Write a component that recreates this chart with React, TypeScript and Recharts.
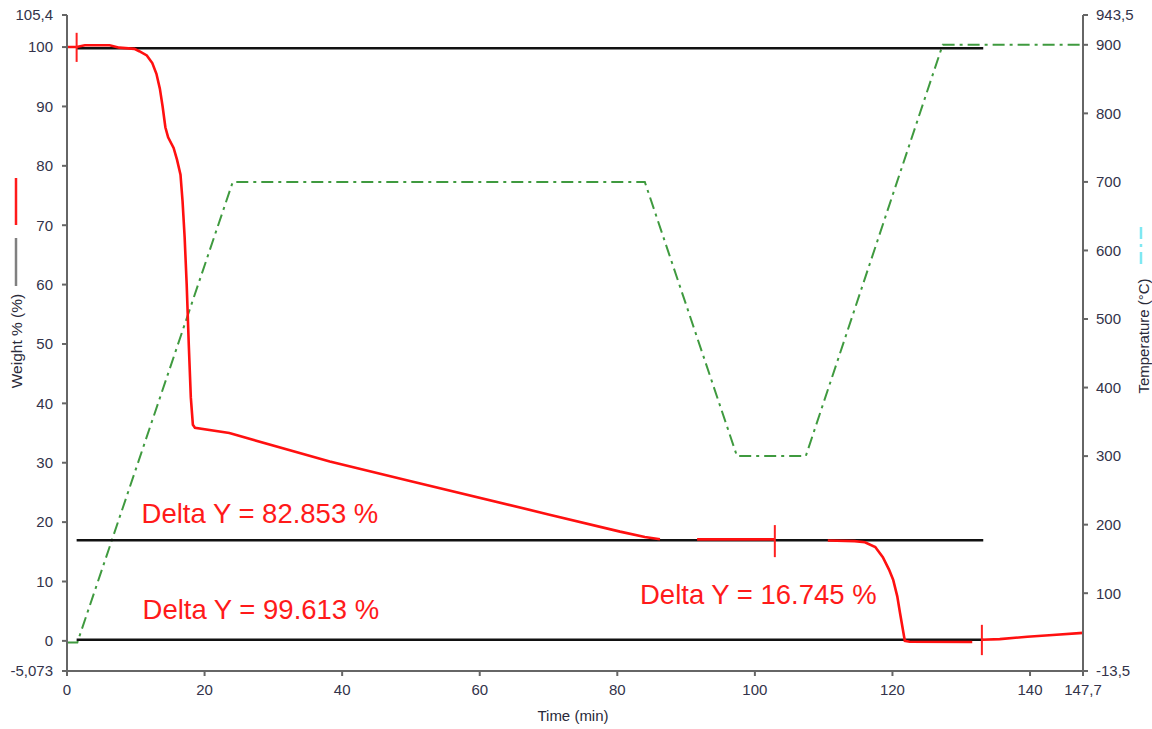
import React from 'react';
import { ComposedChart, Line, XAxis, YAxis, ReferenceLine, ReferenceDot } from 'recharts';

// ---- axis ticks ----
const timeTicks = [0, 20, 40, 60, 80, 100, 120, 140, 147.7];
const weightTicks = [-5.073, 0, 10, 20, 30, 40, 50, 60, 70, 80, 90, 100, 105.4];
const tempTicks = [-13.5, 100, 200, 300, 400, 500, 600, 700, 800, 900, 943.5];

// ---- weight % curve (red), null = visual gap ----
const weightCurve = [
  { t: 0, w: 100.0 },
  { t: 1.4, w: 100.0 },
  { t: 2.6, w: 100.3 },
  { t: 6.2, w: 100.3 },
  { t: 7.6, w: 99.9 },
  { t: 9.8, w: 99.7 },
  { t: 10.5, w: 99.3 },
  { t: 11.6, w: 98.6 },
  { t: 12.4, w: 97.3 },
  { t: 13.0, w: 95.5 },
  { t: 13.5, w: 93.0 },
  { t: 13.9, w: 90.0 },
  { t: 14.3, w: 86.5 },
  { t: 14.7, w: 84.8 },
  { t: 15.5, w: 83.0 },
  { t: 16.0, w: 81.0 },
  { t: 16.5, w: 78.5 },
  { t: 16.8, w: 74.0 },
  { t: 17.1, w: 68.0 },
  { t: 17.4, w: 60.0 },
  { t: 17.7, w: 50.0 },
  { t: 18.0, w: 41.0 },
  { t: 18.3, w: 36.4 },
  { t: 18.6, w: 35.9 },
  { t: 23.6, w: 35.0 },
  { t: 38.2, w: 30.2 },
  { t: 50.0, w: 26.9 },
  { t: 70.0, w: 21.3 },
  { t: 80.4, w: 18.4 },
  { t: 84.0, w: 17.5 },
  { t: 86.2, w: 17.1 },
  { t: 88.9, w: null },
  { t: 91.6, w: 17.1 },
  { t: 102.9, w: 17.1 },
  { t: 106.8, w: null },
  { t: 110.6, w: 16.9 },
  { t: 114.5, w: 16.8 },
  { t: 116.0, w: 16.6 },
  { t: 117.5, w: 15.8 },
  { t: 118.6, w: 14.1 },
  { t: 119.5, w: 12.0 },
  { t: 120.1, w: 10.3 },
  { t: 120.7, w: 7.5 },
  { t: 121.1, w: 4.7 },
  { t: 121.5, w: 2.0 },
  { t: 121.8, w: 0.0 },
  { t: 122.5, w: -0.15 },
  { t: 131.6, w: -0.2 },
  { t: 132.3, w: null },
  { t: 133.0, w: 0.2 },
  { t: 135.6, w: 0.3 },
  { t: 139.6, w: 0.7 },
  { t: 143.3, w: 1.0 },
  { t: 147.7, w: 1.35 },
];

// ---- temperature program (green dash-dot) ----
const temperatureCurve = [
  { t: 0, T: 28 },
  { t: 1.5, T: 28 },
  { t: 24.1, T: 700 },
  { t: 84.0, T: 700 },
  { t: 97.4, T: 300 },
  { t: 107.4, T: 300 },
  { t: 127.3, T: 900 },
  { t: 147.7, T: 900 },
];

// ---- delta-Y cursor levels (black lines) ----
const cursorStart = 1.4;
const cursorEnd = 133.2;
const cursorLevels = [99.8, 16.947, 0.2];

// ---- red cursor marks: [time, low, high] ----
const markTimes = [1.4, 102.9, 133.0];
const markLows = [97.5, 14.1, -2.4];
const markHighs = [102.4, 19.5, 2.7];

// ---- annotations ----
const annoTexts = ['Delta Y = 82.853 %', 'Delta Y = 99.613 %', 'Delta Y = 16.745 %'];
const annoTimes = [10.84, 10.98, 83.3];
const annoLevels = [21.5, 5.4, 7.9];

const fmt = (v: number) => String(v).replace('.', ',');
const FONT = '"Liberation Sans", Arial, sans-serif';
const tickStyle = { fill: '#33334a', fontSize: 15, fontFamily: FONT };
const AXIS = '#666666';

export default function App() {
  const cursorData = cursorLevels.map((lv) => [
    { t: cursorStart, v: lv },
    { t: cursorEnd, v: lv },
  ]);
  return (
    <div style={{ position: 'absolute', left: 0, top: 0, width: 1152, height: 729, background: '#fff' }}>
      <ComposedChart width={1152} height={729} margin={{ top: 15, right: 0, bottom: 0, left: 0 }}>
        <XAxis
          type="number"
          dataKey="t"
          domain={[0, 147.7]}
          ticks={timeTicks}
          interval={0}
          allowDataOverflow
          tickFormatter={fmt}
          height={58}
          tick={tickStyle}
          tickSize={5}
          tickMargin={8}
          axisLine={{ stroke: AXIS, strokeWidth: 2 }}
          tickLine={{ stroke: AXIS, strokeWidth: 2 }}
        />
        <YAxis
          yAxisId="left"
          type="number"
          domain={[-5.073, 105.4]}
          ticks={weightTicks}
          interval={0}
          allowDataOverflow
          tickFormatter={fmt}
          width={67}
          tick={tickStyle}
          tickSize={5}
          tickMargin={9}
          axisLine={{ stroke: AXIS, strokeWidth: 2 }}
          tickLine={{ stroke: AXIS, strokeWidth: 2 }}
        />
        <YAxis
          yAxisId="right"
          orientation="right"
          type="number"
          domain={[-13.5, 943.5]}
          ticks={tempTicks}
          interval={0}
          allowDataOverflow
          tickFormatter={fmt}
          width={69}
          tick={tickStyle}
          tickSize={5}
          tickMargin={8}
          axisLine={{ stroke: AXIS, strokeWidth: 2 }}
          tickLine={{ stroke: AXIS, strokeWidth: 2 }}
        />
        <Line
          yAxisId="right"
          data={temperatureCurve}
          dataKey="T"
          type="linear"
          stroke="#3f9a3f"
          strokeWidth={2}
          strokeDasharray="12 5 3 5"
          dot={false}
          activeDot={false}
          isAnimationActive={false}
        />
        {cursorData.map((d, i) => (
          <Line
            key={'c' + i}
            yAxisId="left"
            data={d}
            dataKey="v"
            type="linear"
            stroke="#111"
            strokeWidth={2.5}
            dot={false}
            activeDot={false}
            isAnimationActive={false}
          />
        ))}
        <Line
          yAxisId="left"
          data={weightCurve}
          dataKey="w"
          type="linear"
          stroke="#ff1010"
          strokeWidth={2.6}
          dot={false}
          activeDot={false}
          connectNulls={false}
          isAnimationActive={false}
        />
        {markTimes.map((mt, i) => (
          <ReferenceLine
            key={'m' + i}
            yAxisId="left"
            segment={[
              { x: mt, y: markLows[i] },
              { x: mt, y: markHighs[i] },
            ]}
            stroke="#ff2020"
            strokeWidth={2}
          />
        ))}
        {annoTexts.map((txt, i) => (
          <ReferenceDot
            key={'a' + i}
            yAxisId="left"
            x={annoTimes[i]}
            y={annoLevels[i]}
            r={0}
            fill="none"
            stroke="none"
            label={{
              value: txt,
              position: 'right',
              offset: 0,
              fill: '#ff1a1a',
              fontSize: 27.5,
              fontFamily: FONT,
            }}
          />
        ))}
      </ComposedChart>
      <svg
        width={1152}
        height={729}
        style={{ position: 'absolute', left: 0, top: 0, pointerEvents: 'none' }}
      >
        <line x1={16} y1={178} x2={16} y2={225} stroke="#ff1a1a" strokeWidth={2.5} />
        <line x1={16} y1={238} x2={16} y2={286} stroke="#808080" strokeWidth={2.5} />
        <text
          x={16}
          y={341}
          transform="rotate(-90 16 341)"
          textAnchor="middle"
          dominantBaseline="central"
          fontFamily={FONT}
          fontSize={15.5}
          fill="#2a2a3a"
        >
          Weight % (%)
        </text>
        <line
          x1={1141}
          y1={227}
          x2={1141}
          y2={266}
          stroke="#7ee8f2"
          strokeWidth={2.5}
          strokeDasharray="12 5 3 5"
        />
        <text
          x={1143}
          y={336}
          transform="rotate(-90 1143 336)"
          textAnchor="middle"
          dominantBaseline="central"
          fontFamily={FONT}
          fontSize={15}
          fill="#2a2a3a"
        >
          Temperature (°C)
        </text>
        <text
          x={573}
          y={715}
          textAnchor="middle"
          dominantBaseline="central"
          fontFamily={FONT}
          fontSize={15}
          fill="#2a2a3a"
        >
          Time (min)
        </text>
      </svg>
    </div>
  );
}
